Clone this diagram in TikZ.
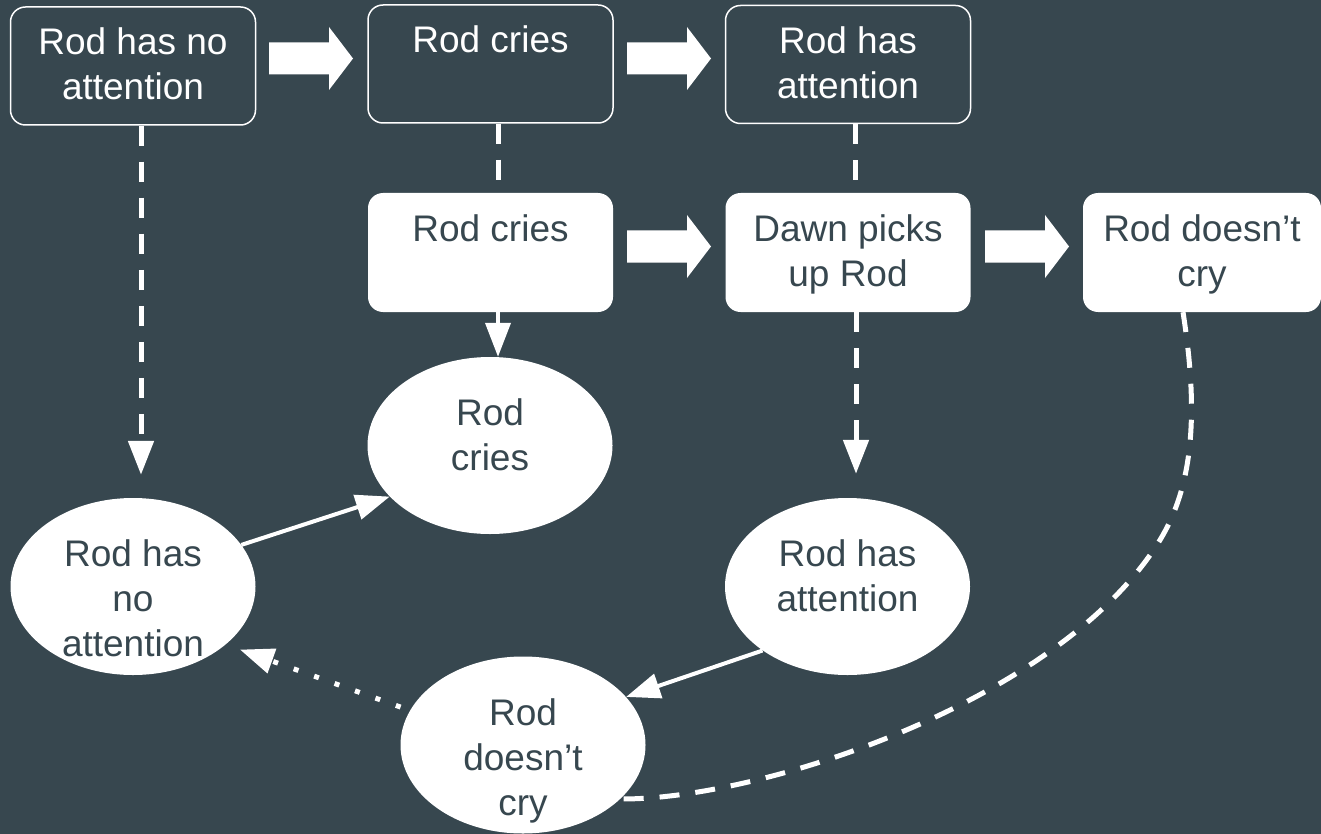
\documentclass[tikz,border=0pt]{standalone}
\usepackage{fontspec}
\setmainfont{Liberation Sans}
\usetikzlibrary{shapes.geometric, arrows.meta}
\definecolor{slate}{HTML}{37474F}
\begin{document}
\begin{tikzpicture}[x=1pt, y=-1pt,
  txt/.style={font=\fontsize{37}{45}\selectfont, align=center, inner sep=0pt, anchor=north},
  btxt/.style={txt, text=white, yshift=-21.5pt},
  dtxt/.style={txt, text=slate, yshift=-21.5pt},
  etxt/.style={txt, text=slate, yshift=-42pt},
  outbox/.style={draw=white, line width=1.5pt, rounded corners=15pt, minimum width=245pt, minimum height=118pt, inner sep=0pt},
  fillbox/.style={fill=white, rounded corners=15pt, minimum width=245pt, minimum height=119pt, inner sep=0pt},
  oval/.style={ellipse, fill=white, minimum width=245pt, minimum height=177pt, inner sep=0pt},
  tipw/.style={-{Triangle[length=34pt, width=25pt]}},
  dashln/.style={draw=white, line width=5pt, dash pattern=on 20pt off 16pt},
  solidln/.style={draw=white, line width=4pt},
  dotln/.style={draw=white, line width=5pt, dash pattern=on 5pt off 16.7pt},
  blockarr/.pic={\fill[white] (0,-16) -- (60,-16) -- (60,-31.5) -- (84,0) -- (60,31.5) -- (60,16) -- (0,16) -- cycle;}
]
\fill[slate] (0,0) rectangle (1321,834);
\useasboundingbox (0,0) rectangle (1321,834);

% top row (outlined)
\node[outbox, label={[btxt]north:Rod has no\\attention}] (A1) at (133,66) {};
\node[outbox, label={[btxt]north:Rod cries}] (A2) at (490.5,64) {};
\node[outbox, label={[btxt]north:Rod has\\attention}] (A3) at (848,64.5) {};

% middle row (filled)
\node[fillbox, label={[dtxt]north:Rod cries}] (B2) at (490.5,252.5) {};
\node[fillbox, label={[dtxt]north:Dawn picks\\up Rod}] (B3) at (848,252.5) {};
\node[fillbox, minimum width=238pt, label={[dtxt]north:Rod doesn’t\\cry}] (B4) at (1202,252.5) {};

% ellipses
\node[oval, label={[etxt]north:Rod\\cries}] (E1) at (490,445.5) {};
\node[oval, label={[etxt]north:Rod has\\no\\attention}] (E2) at (133,586.5) {};
\node[oval, label={[etxt]north:Rod has\\attention}] (E3) at (847.5,586.5) {};
\node[oval, label={[etxt]north:Rod\\doesn’t\\cry}] (E4) at (523,745) {};

% block arrows
\pic at (269,58.5) {blockarr};
\pic at (627,58.5) {blockarr};
\pic at (627,246.5) {blockarr};
\pic at (985,246.5) {blockarr};

% connectors
\draw[dashln, tipw] ([xshift=8pt]A1.south) -- ([xshift=8pt, yshift=23pt]E2.north);
\draw[dashln] ([xshift=7.5pt]A2.south) -- ([xshift=7.5pt]B2.north);
\draw[dashln] ([xshift=7pt]A3.south) -- ([xshift=7pt]B3.north);
\draw[solidln, tipw] ([xshift=7.5pt]B2.south) -- ([xshift=8pt]E1.north);
\draw[dashln, tipw] ([xshift=8pt]B3.south) -- ([xshift=8.5pt, yshift=24pt]E3.north);
\draw[solidln, tipw] (E2.21) -- (E1.207);
\draw[solidln, tipw] (E3.217) -- (E4.25);
\draw[dotln, tipw, shorten <=10pt, shorten >=15pt] (E4.163) -- (E2.328);
\draw[dashln] ([xshift=-19pt]B4.south) .. controls (1200,420) and (1191,489) .. (1160,540)
  .. controls (1061,701.5) and (760,800) .. (E4.331);
\end{tikzpicture}
\end{document}
